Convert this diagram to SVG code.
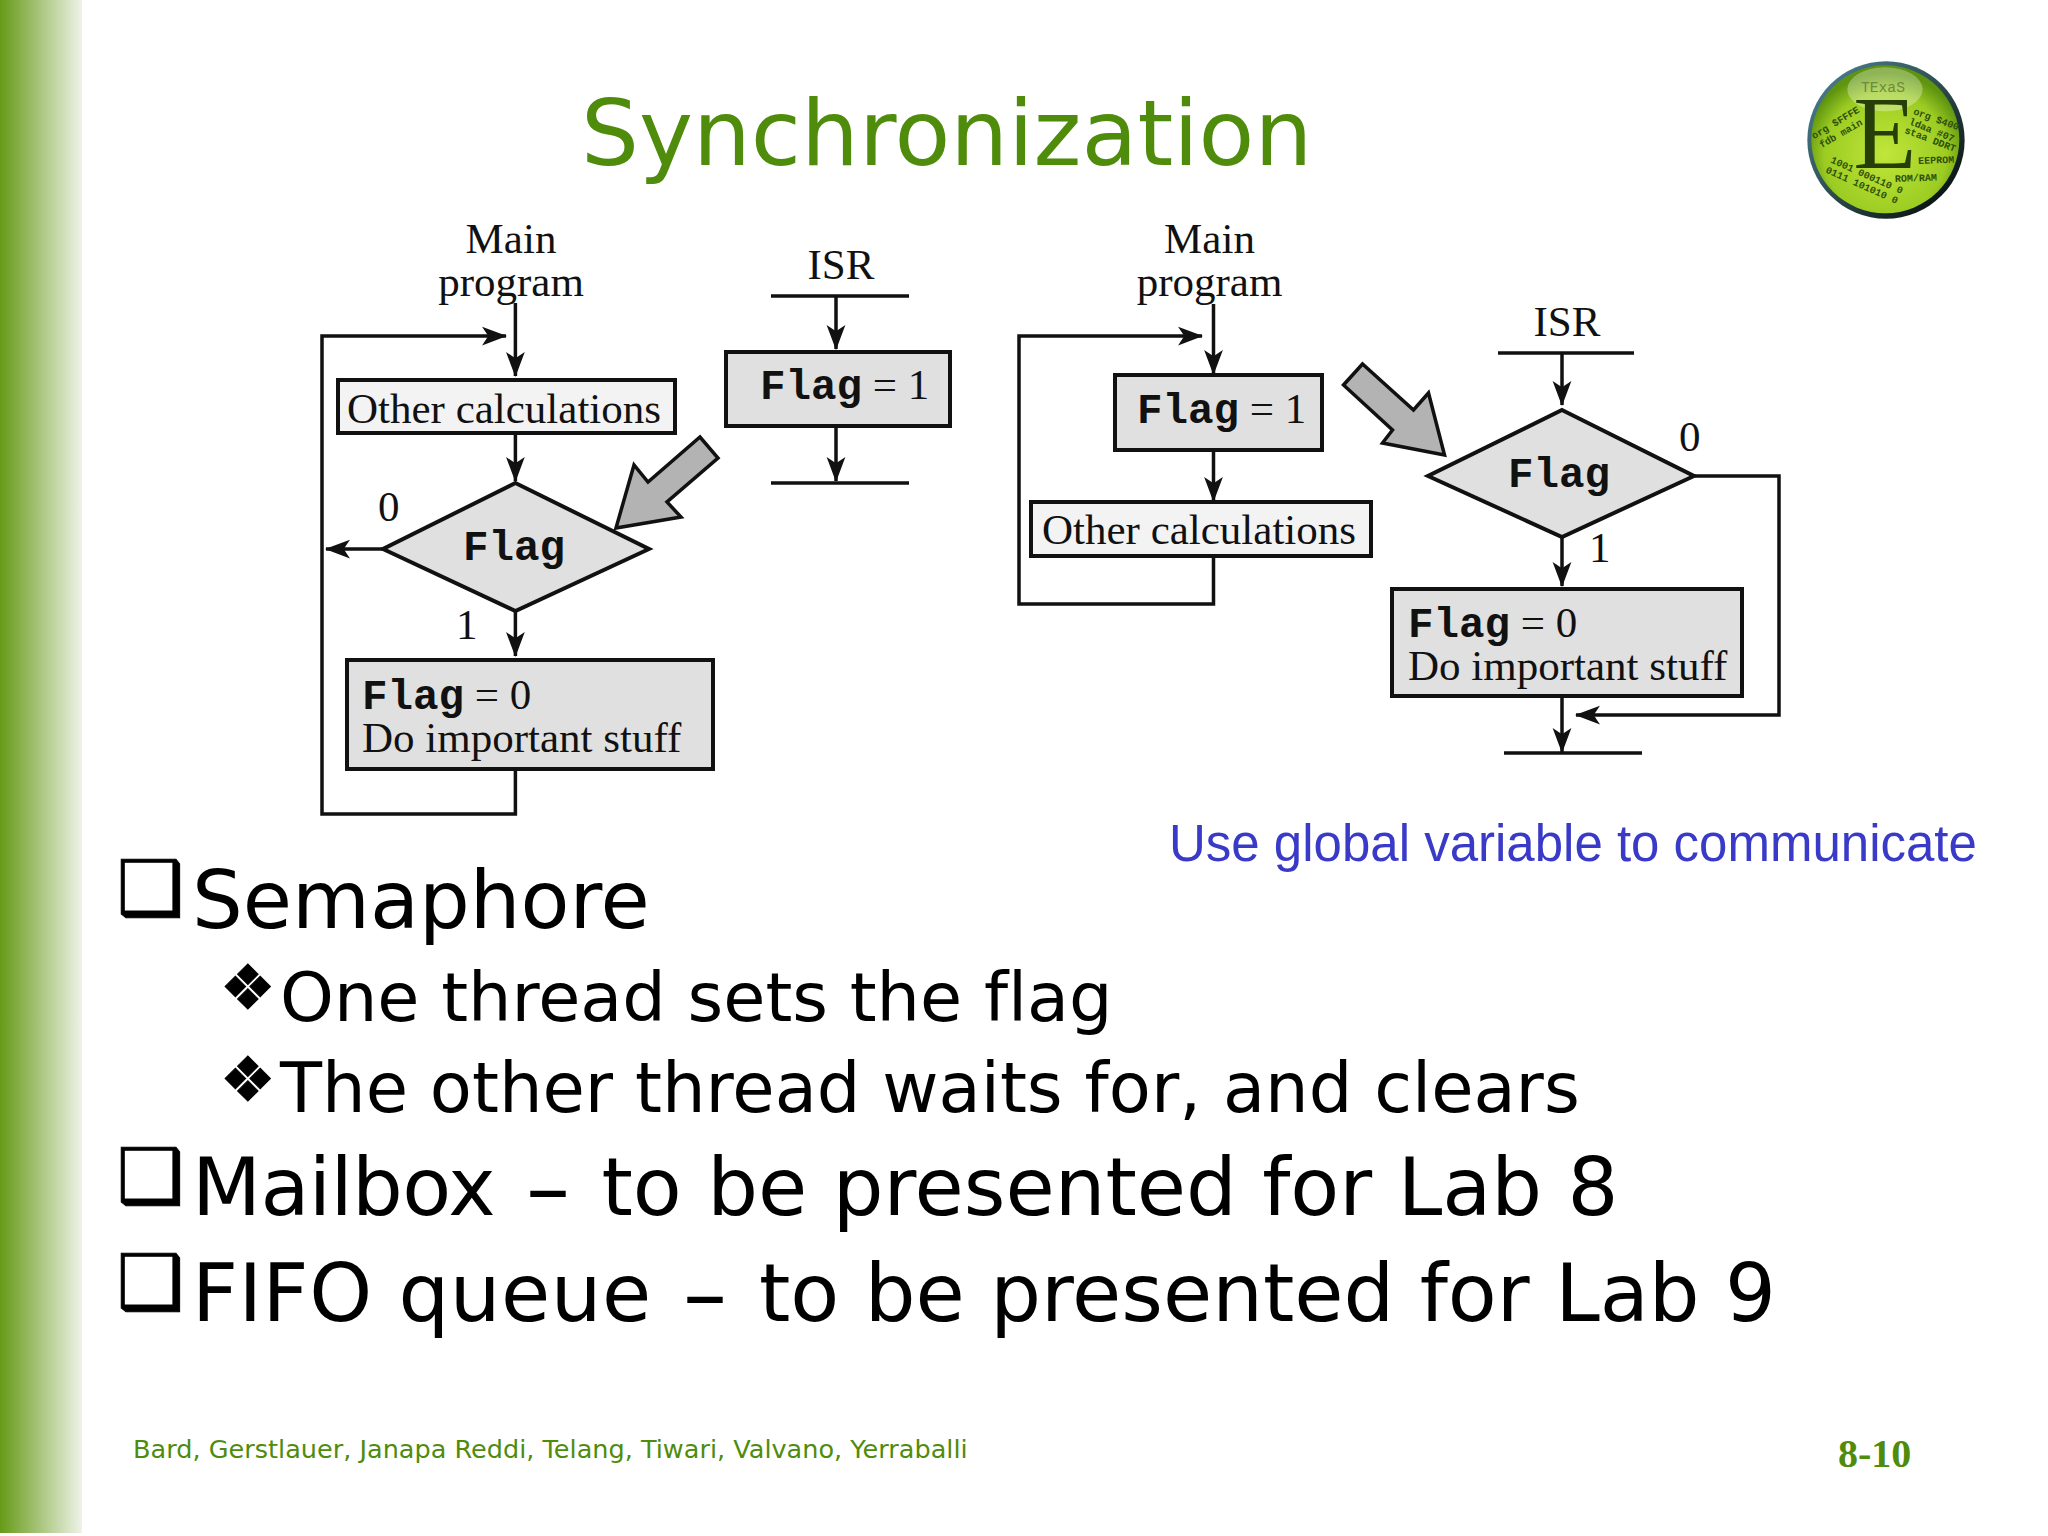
<svg xmlns="http://www.w3.org/2000/svg" width="2048" height="1536" viewBox="0 0 2048 1536">
<style>
.s{font-family:"Liberation Serif",serif;font-size:43px;fill:#111}
.m{font-family:"Liberation Mono",monospace;font-size:42.5px;font-weight:bold;fill:#111}
.b{stroke:#111;stroke-width:4;fill:#e0e0e0}
.l{stroke:#111;stroke-width:4;fill:#f3f3f3}
.c{stroke:#111;stroke-width:3.5;fill:none}
.a{marker-end:url(#ah)}
.g{fill:#b3b3b3;stroke:#111;stroke-width:3.5}
.v{font-family:"DejaVu Sans",sans-serif;fill:#000;font-variant-ligatures:none}
.k{stroke:#000;stroke-width:1}
.lg{font-family:"Liberation Mono",monospace;font-size:30px;fill:#2f4f0a;font-weight:bold}
</style>
<defs>
<linearGradient id="side" x1="0" x2="1" y1="0" y2="0"><stop offset="0" stop-color="#669a17"/><stop offset="1" stop-color="#eef3e8"/></linearGradient>
<radialGradient id="ball" cx=".5" cy=".6" r=".55"><stop offset="0" stop-color="#c0e63a"/><stop offset=".75" stop-color="#9ccc22"/><stop offset="1" stop-color="#5f9410"/></radialGradient>
<linearGradient id="rim" x1="0" x2="1" y1="0" y2="1"><stop offset="0" stop-color="#4f86a0"/><stop offset=".5" stop-color="#2d4d4d"/><stop offset="1" stop-color="#000"/></linearGradient>
<marker id="ah" markerUnits="userSpaceOnUse" markerWidth="25" markerHeight="20" viewBox="0 0 24 18" refX="23" refY="9" orient="auto"><path d="M0,0L24,9L0,18L6,9z" fill="#111"/></marker>
</defs>
<rect id="sidebar" x="0" y="0" width="82" height="1533" fill="url(#side)"/>
<text id="title" x="581" y="165" font-family="DejaVu Sans,sans-serif" font-size="91.3" fill="#4f8c0c">Synchronization</text>
<g id="logo" transform="translate(1780,40) scale(.3333)">
<circle cx="318" cy="300" r="236" fill="url(#rim)"/>
<circle cx="316" cy="298" r="222" fill="url(#ball)"/>
<ellipse cx="315" cy="148" rx="113" ry="66" fill="#fff" fill-opacity=".3"/>
<text x="243" y="157" class="lg" style="font-size:44px;font-weight:normal;fill:#6d8a3c">TExaS</text>
<text x="220" y="385" font-family="Liberation Serif,serif" font-size="310" fill="#263f08">E</text>
<text class="lg" transform="translate(102,298) rotate(-31)">org $FFFE</text>
<text class="lg" transform="translate(125,325) rotate(-30)">fdb main</text>
<text class="lg" transform="translate(398,222) rotate(20)">org $400</text>
<text class="lg" transform="translate(385,252) rotate(22)">ldaa #07</text>
<text class="lg" transform="translate(372,278) rotate(21)">staa DDRT</text>
<text class="lg" transform="translate(415,372) rotate(-2)">EEPROM</text>
<text class="lg" transform="translate(345,426) rotate(-2)">ROM/RAM</text>
<text class="lg" transform="translate(150,367) rotate(24)">1001 000110 0</text>
<text class="lg" transform="translate(135,397) rotate(24)">0111 101010 0</text>
</g>
<g id="connectors">
<path class="c a" d="M515.4,303V376"/>
<path class="c a" d="M515.4,768V814H322V336H506"/>
<path class="c a" d="M515.4,433V481"/>
<path class="c a" d="M383,549H326"/>
<path class="c a" d="M515.4,611V656"/>
<path class="c" d="M771,296H909"/>
<path class="c a" d="M836,296V349"/>
<path class="c a" d="M836,426V481"/>
<path class="c" d="M771,483H909"/>
<path class="c a" d="M1213.5,304V374"/>
<path class="c a" d="M1213.5,556V604H1019V336H1202"/>
<path class="c a" d="M1213.5,448V501"/>
<path class="c" d="M1498,353H1634"/>
<path class="c a" d="M1562,353V405"/>
<path class="c a" d="M1562,537V586"/>
<path class="c a" d="M1562,697V752"/>
<path class="c" d="M1504,753H1642"/>
<path class="c a" d="M1695,476H1779V715H1576"/>
</g>
<g id="main-label-1"><text class="s" x="511" y="253" text-anchor="middle">Main</text><text class="s" x="511" y="296" text-anchor="middle">program</text></g>
<g id="other-1"><rect class="l" x="338" y="380" width="337" height="53"/><text class="s" x="347" y="423">Other calculations</text></g>
<g id="flag-decision-1"><polygon class="b" points="515.4,483 649,549 515.4,611 383,549"/><text class="m" x="463" y="560">Flag</text></g>
<g id="flag0-1"><rect class="b" x="347" y="660" width="366" height="109"/><text class="s" x="362" y="709"><tspan class="m">Flag</tspan> = 0</text><text class="s" x="362" y="752">Do important stuff</text></g>
<text class="s" x="378" y="521">0</text>
<text class="s" x="456" y="639">1</text>
<polygon id="pointer-1" class="g" points="616,528 634,465 648,482 700,437 718,458 667,502 681,517"/>
<g id="isr-label-1"><text class="s" x="841" y="279" text-anchor="middle">ISR</text></g>
<g id="flag1-isr"><rect class="b" x="726" y="352" width="228" height="74" transform="translate(0,0)" style="width:224px"/><text class="s" x="760" y="399"><tspan class="m">Flag</tspan> = 1</text></g>
<g id="main-label-2"><text class="s" x="1209.5" y="253" text-anchor="middle">Main</text><text class="s" x="1209.5" y="296" text-anchor="middle">program</text></g>
<g id="flag1-main"><rect class="b" x="1115" y="375" width="207" height="75"/><text class="s" x="1137" y="423"><tspan class="m">Flag</tspan> = 1</text></g>
<g id="other-2"><rect class="l" x="1031" y="502" width="340" height="54"/><text class="s" x="1042" y="544">Other calculations</text></g>
<polygon id="pointer-2" class="g" points="1362.5,364 1343.5,385 1392.5,430 1382.5,443 1444.5,455 1428.5,393 1413.5,410"/>
<g id="isr-label-2"><text class="s" x="1567" y="336" text-anchor="middle">ISR</text></g>
<g id="flag-decision-2"><polygon class="b" points="1562,410 1694,476 1562,537 1428,476"/><text class="m" x="1508" y="487">Flag</text></g>
<g id="flag0-2"><rect class="b" x="1392" y="589" width="350" height="107"/><text class="s" x="1408" y="637"><tspan class="m">Flag</tspan> = 0</text><text class="s" x="1408" y="680">Do important stuff</text></g>
<text class="s" x="1679" y="451">0</text>
<text class="s" x="1589" y="562">1</text>
<text id="note" x="1169" y="861" font-family="Liberation Sans,sans-serif" font-size="51" fill="#3a3ac8">Use global variable to communicate</text>
<g id="bullets">
<text class="v k" x="117" y="914" font-size="75">❑</text>
<text class="v" x="192" y="928" font-size="80">Semaphore</text>
<text class="v k" x="220" y="1009" font-size="62">❖</text>
<text class="v" x="280" y="1021" font-size="68.5">One thread sets the flag</text>
<text class="v k" x="220" y="1101" font-size="62">❖</text>
<text class="v" x="280" y="1112" font-size="68.8">The other thread waits for, and clears</text>
<text class="v k" x="117" y="1202" font-size="75">❑</text>
<text class="v" x="192" y="1215" font-size="80" xml:space="preserve"><tspan letter-spacing="-.6">Mailbox</tspan> <tspan x="526" y="1218" font-size="88">–</tspan> <tspan x="601.5" y="1215">to be presented for Lab 8</tspan></text>
<text class="v k" x="117" y="1308" font-size="75">❑</text>
<text class="v" x="192" y="1321" font-size="80" xml:space="preserve"><tspan letter-spacing=".5">FIFO queue</tspan> <tspan x="683" y="1324" font-size="88">–</tspan> <tspan x="759" y="1321">to be presented for Lab 9</tspan></text>
</g>
<text id="footer" x="133" y="1458" font-family="DejaVu Sans,sans-serif" font-size="25.55" fill="#4f8c0c">Bard, Gerstlauer, Janapa Reddi, Telang, Tiwari, Valvano, Yerraballi</text>
<text id="page" x="1838" y="1466.5" font-family="Liberation Serif,serif" font-size="40" font-weight="bold" fill="#4f8c0c">8-10</text>
</svg>
